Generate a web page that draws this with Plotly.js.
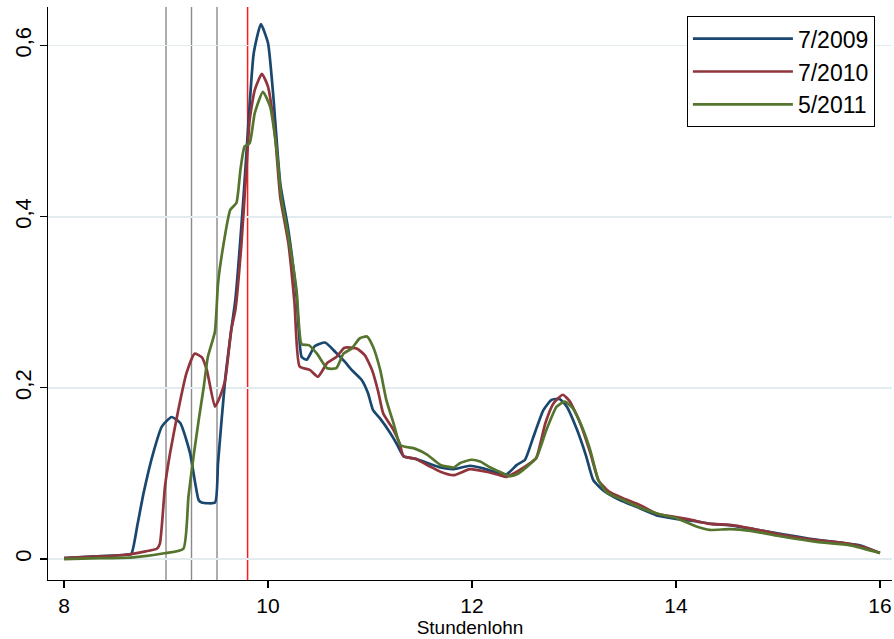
<!DOCTYPE html>
<html>
<head>
<meta charset="utf-8">
<script src="https://cdn.plot.ly/plotly-3.0.1.min.js"></script>
<style>html,body{margin:0;padding:0;background:#fff;}#chart{width:894px;height:639px;}</style>
</head>
<body>
<div id="chart"></div>
<script>
// Series names
var seriesNames = ["7/2009", "7/2010", "5/2011"];

// 7/2009
var x2009 = [8.00,8.30,8.60,8.66,8.72,8.78,8.875,8.96,9.055,9.14,9.235,9.32,9.35,9.48,9.51,9.58,9.64,9.68,9.76,9.81,9.86,9.93,10.00,10.05,10.12,10.20,10.28,10.33,10.38,10.46,10.56,10.66,10.75,10.82,10.92,10.98,11.03,11.10,11.20,11.26,11.33,11.45,11.59,11.69,11.82,11.98,12.11,12.24,12.34,12.44,12.52,12.60,12.70,12.78,12.86,12.93,13.03,13.12,13.19,13.29,13.45,13.61,13.81,14.00,14.20,14.35,14.55,14.80,15.05,15.30,15.55,15.80,16.00];
var y2009 = [0.001,0.003,0.005,0.006,0.040,0.077,0.124,0.155,0.166,0.159,0.124,0.069,0.066,0.066,0.112,0.210,0.268,0.303,0.423,0.513,0.591,0.625,0.603,0.544,0.439,0.384,0.307,0.236,0.233,0.249,0.253,0.242,0.231,0.221,0.209,0.194,0.174,0.164,0.147,0.135,0.120,0.117,0.111,0.107,0.105,0.109,0.106,0.101,0.099,0.110,0.116,0.142,0.174,0.186,0.187,0.178,0.151,0.120,0.092,0.080,0.069,0.061,0.051,0.047,0.044,0.041,0.039,0.034,0.029,0.024,0.020,0.016,0.007];

// 7/2010
var x2010 = [8.00,8.35,8.60,8.80,8.91,8.94,8.99,9.04,9.12,9.20,9.28,9.35,9.40,9.48,9.53,9.58,9.64,9.68,9.74,9.79,9.82,9.87,9.94,10.00,10.07,10.12,10.20,10.26,10.31,10.41,10.49,10.58,10.67,10.75,10.87,10.95,11.02,11.08,11.13,11.23,11.29,11.33,11.45,11.59,11.69,11.82,11.98,12.14,12.27,12.34,12.44,12.57,12.63,12.72,12.80,12.89,12.96,13.06,13.16,13.24,13.34,13.48,13.65,13.81,14.00,14.14,14.33,14.53,14.73,15.05,15.38,15.64,15.84,16.00];
var y2010 = [0.001,0.003,0.005,0.009,0.012,0.018,0.085,0.124,0.174,0.217,0.240,0.236,0.221,0.178,0.190,0.209,0.268,0.291,0.369,0.459,0.513,0.548,0.567,0.552,0.494,0.423,0.369,0.299,0.225,0.221,0.213,0.229,0.236,0.247,0.246,0.238,0.221,0.196,0.170,0.151,0.135,0.120,0.117,0.108,0.102,0.098,0.105,0.102,0.098,0.096,0.102,0.112,0.118,0.159,0.182,0.192,0.184,0.159,0.124,0.092,0.079,0.071,0.063,0.053,0.049,0.046,0.041,0.040,0.036,0.028,0.022,0.019,0.014,0.007];

// 5/2011
var x2011 = [8.00,8.35,8.68,9.00,9.17,9.22,9.27,9.32,9.37,9.41,9.48,9.51,9.56,9.63,9.69,9.73,9.77,9.82,9.87,9.95,10.02,10.085,10.13,10.20,10.28,10.33,10.40,10.48,10.58,10.67,10.74,10.82,10.90,10.97,11.03,11.10,11.16,11.23,11.30,11.44,11.56,11.69,11.82,11.88,11.99,12.08,12.18,12.27,12.37,12.44,12.54,12.63,12.73,12.83,12.91,12.99,13.09,13.16,13.24,13.32,13.48,13.65,13.85,14.00,14.20,14.33,14.53,14.73,15.05,15.38,15.71,16.00];
var y2011 = [0.000,0.001,0.002,0.007,0.012,0.073,0.120,0.162,0.201,0.236,0.266,0.322,0.365,0.408,0.416,0.455,0.482,0.486,0.521,0.546,0.529,0.478,0.423,0.377,0.314,0.251,0.250,0.240,0.223,0.223,0.240,0.246,0.258,0.260,0.248,0.221,0.186,0.159,0.133,0.129,0.122,0.110,0.107,0.112,0.116,0.114,0.107,0.102,0.097,0.099,0.108,0.118,0.151,0.178,0.184,0.176,0.151,0.127,0.092,0.078,0.069,0.060,0.052,0.048,0.038,0.034,0.035,0.033,0.026,0.020,0.016,0.007];

// Reference lines
var grayLines = [9.0, 9.25, 9.5];
var redLine = 9.8;

// Axis ticks
var xTicks = [8, 10, 12, 14, 16];
var yTickVals = [0, 0.2, 0.4, 0.6];
var yTickText = ["0", "0,2", "0,4", "0,6"];

var colors = ["#1a476f", "#90353b", "#55752f"];
var xs = [x2009, x2010, x2011];
var ys = [y2009, y2010, y2011];

var traces = [];
for (var i = 0; i < 3; i++) {
  traces.push({
    type: "scatter", mode: "lines",
    x: xs[i], y: ys[i], name: seriesNames[i],
    line: {color: colors[i], width: 2.7, shape: "spline", smoothing: 0.5}
  });
}

var shapes = [];
grayLines.forEach(function (v) {
  shapes.push({type: "line", xref: "x", yref: "paper", x0: v, x1: v, y0: 0, y1: 1,
    line: {color: "#8a8a8a", width: 1.4}, layer: "below"});
});
shapes.push({type: "line", xref: "x", yref: "paper", x0: redLine, x1: redLine, y0: 0, y1: 1,
  line: {color: "#ff1a1a", width: 1.5}, layer: "below"});

var font = "Liberation Sans, Arial, sans-serif";

var layout = {
  width: 894, height: 639,
  margin: {l: 48, r: 2, t: 7, b: 59},
  paper_bgcolor: "#ffffff", plot_bgcolor: "#ffffff",
  font: {family: font, color: "#000"},
  showlegend: true,
  legend: {
    x: 0.757, y: 0.984, xanchor: "left", yanchor: "top",
    bordercolor: "#000", borderwidth: 1, bgcolor: "#fff",
    font: {family: font, size: 23, color: "#000"},
    itemwidth: 100
  },
  xaxis: {
    range: [7.843, 16.118], tickvals: xTicks, ticktext: xTicks.map(String),
    showgrid: false, zeroline: false,
    showline: true, linecolor: "#000", linewidth: 1.2,
    ticks: "outside", ticklen: 7, tickcolor: "#000", tickwidth: 1.2,
    tickfont: {family: font, size: 21, color: "#000"},
    title: {text: "Stundenlohn", font: {family: font, size: 19, color: "#000"}, standoff: 3}
  },
  yaxis: {
    range: [-0.0245, 0.6451], tickvals: yTickVals, ticktext: yTickText,
    showgrid: true, gridcolor: "#e2ecef", gridwidth: 1.6, zeroline: false,
    showline: true, linecolor: "#000", linewidth: 1.2,
    ticks: "outside", ticklen: 7, tickcolor: "#000", tickwidth: 1.2,
    tickangle: -90,
    tickfont: {family: font, size: 22, color: "#000"}
  },
  shapes: shapes
};

Plotly.newPlot("chart", traces, layout, {displayModeBar: false, staticPlot: true});
</script>
</body>
</html>
